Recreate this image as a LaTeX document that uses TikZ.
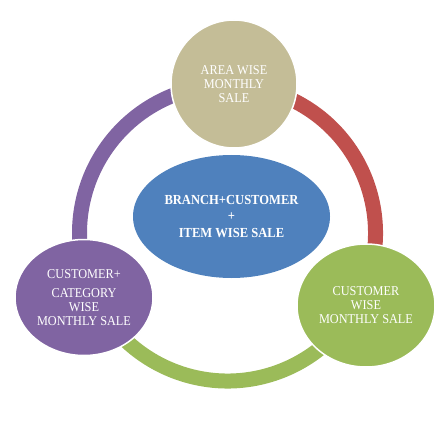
\documentclass[tikz,border=0pt]{standalone}
\usepackage{fontspec}
\setmainfont{Liberation Serif}[FakeStretch=0.91]
\usetikzlibrary{shapes.geometric}
\definecolor{tanc}{HTML}{C4BD97}
\definecolor{redc}{HTML}{C0504D}
\definecolor{greenc}{HTML}{9BBB59}
\definecolor{purplec}{HTML}{8064A2}
\definecolor{bluec}{HTML}{4F81BD}
\tikzset{
  ringarc/.style={line width=15pt},
  blob/.style={ellipse, draw=white, line width=1.5pt, inner sep=0pt, text=white, align=center,
    font=\fontsize{13.5}{14}\selectfont},
  hubblob/.style={blob, draw=none, font=\fontsize{13.8}{16.5}\selectfont\bfseries}
}
\begin{document}
\begin{tikzpicture}[x=1pt,y=1pt]
\useasboundingbox (0,0) rectangle (447,-425);
\coordinate (C) at (227.5,-233);
% ring
\draw[ringarc, purplec] (C) ++(90:148) arc[start angle=90, end angle=204, radius=148pt];
\draw[ringarc, redc] (C) ++(-28:148) arc[start angle=-28, end angle=90, radius=148pt];
\draw[ringarc, greenc] (C) ++(204:148) arc[start angle=204, end angle=332, radius=148pt];
% hub
\node[hubblob, fill=bluec, minimum width=197pt, minimum height=123pt] (hub) at (231.5,-216.5)
  {BRANCH+CUSTOMER\\+\\ITEM WISE SALE};
% outer circles
\node[blob, fill=tanc, minimum width=126pt, minimum height=128pt] (top) at (234,-84)
  {AREA WISE\\MONTHLY\\SALE};
\node[blob, fill=greenc, minimum width=138pt, minimum height=123pt] (right) at (366,-305.5)
  {CUSTOMER\\WISE\\MONTHLY SALE};
\node[blob, fill=purplec, minimum width=138pt, minimum height=116pt] (left) at (84,-297.5)
  {CUSTOMER+\\[5pt]CATEGORY\\WISE\\MONTHLY SALE};
\end{tikzpicture}
\end{document}
